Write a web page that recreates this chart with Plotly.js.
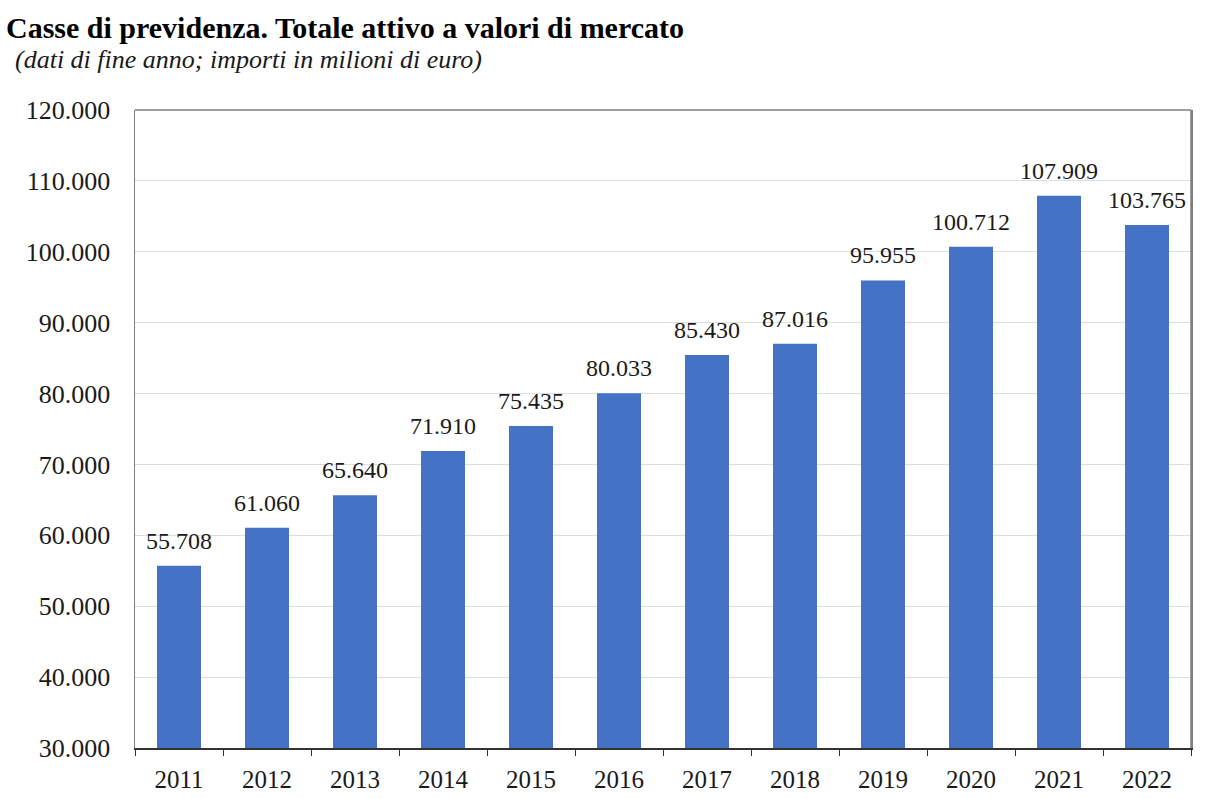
<!DOCTYPE html>
<html><head><meta charset="utf-8">
<script src="https://cdn.plot.ly/plotly-3.0.1.min.js"></script>
<style>body{margin:0;background:#fff}#c{width:1212px;height:798px}</style>
</head><body><div id="c"></div>
<script>
const years = ['2011','2012','2013','2014','2015','2016','2017','2018','2019','2020','2021','2022'];
const values = [55708, 61060, 65640, 71910, 75435, 80033, 85430, 87016, 95955, 100712, 107909, 103765];
const yTicks = [30000,40000,50000,60000,70000,80000,90000,100000,110000,120000];
const titleText = 'Casse di previdenza. Totale attivo a valori di mercato';
const subtitleText = '(dati di fine anno; importi in milioni di euro)';
const serif = 'Liberation Serif, Times New Roman, serif';

function fmt(v) { return String(v).replace(/\B(?=(\d{3})+(?!\d))/g, '.'); }

const labelAnns = years.map((yr, i) => ({
  x: i, y: values[i], xref: 'x', yref: 'y', text: fmt(values[i]),
  showarrow: false, xanchor: 'center', yanchor: 'bottom', yshift: 10,
  font: {family: serif, size: 24, color: '#1a1a1a'}
}));

Plotly.newPlot('c', [{
  type: 'bar', x: years, y: values,
  marker: {color: '#4472C4'},
  hoverinfo: 'skip'
}], {
  width: 1212, height: 798,
  separators: ',.',
  margin: {l: 135, r: 21, t: 110, b: 50},
  paper_bgcolor: '#fff', plot_bgcolor: '#fff',
  bargap: 0.5,
  font: {family: serif, color: '#1a1a1a'},
  showlegend: false,
  xaxis: {
    type: 'category', range: [-0.5, years.length - 0.5],
    tickson: 'boundaries', ticks: 'outside', ticklen: 6, tickcolor: '#333',
    showline: true, linecolor: '#333', linewidth: 2, mirror: false,
    ticklabelstandoff: 8,
    tickfont: {family: serif, size: 25, color: '#1a1a1a'}, showgrid: false
  },
  yaxis: {
    range: [30000, 120000], tickvals: yTicks, tickformat: ',d',
    showgrid: true, gridcolor: '#dedede', gridwidth: 1,
    showline: true, linecolor: '#7f7f7f', linewidth: 1.5, mirror: true,
    ticks: '', ticklabelstandoff: 18,
    tickfont: {family: serif, size: 26, color: '#1a1a1a'}, zeroline: false
  },
  shapes: [
    {type: 'line', xref: 'paper', yref: 'paper', x0: 0, x1: 1, y0: 1, y1: 1, line: {color: '#7f7f7f', width: 1.5}},
    {type: 'line', xref: 'paper', yref: 'paper', x0: 1, x1: 1, y0: 0, y1: 1, line: {color: '#7f7f7f', width: 1.5}}
  ],
  annotations: labelAnns.concat([
    {text: '<b>' + titleText + '</b>', xref: 'paper', yref: 'paper', x: -131/1056, y: 1 + 82/638,
     xanchor: 'left', yanchor: 'middle', showarrow: false, font: {family: serif, size: 30, color: '#000'}},
    {text: '<i>' + subtitleText + '</i>', xref: 'paper', yref: 'paper', x: -122/1056, y: 1 + 50/638,
     xanchor: 'left', yanchor: 'middle', showarrow: false, font: {family: serif, size: 26, color: '#1a1a1a'}}
  ])
}, {displayModeBar: false, staticPlot: true});
</script></body></html>
